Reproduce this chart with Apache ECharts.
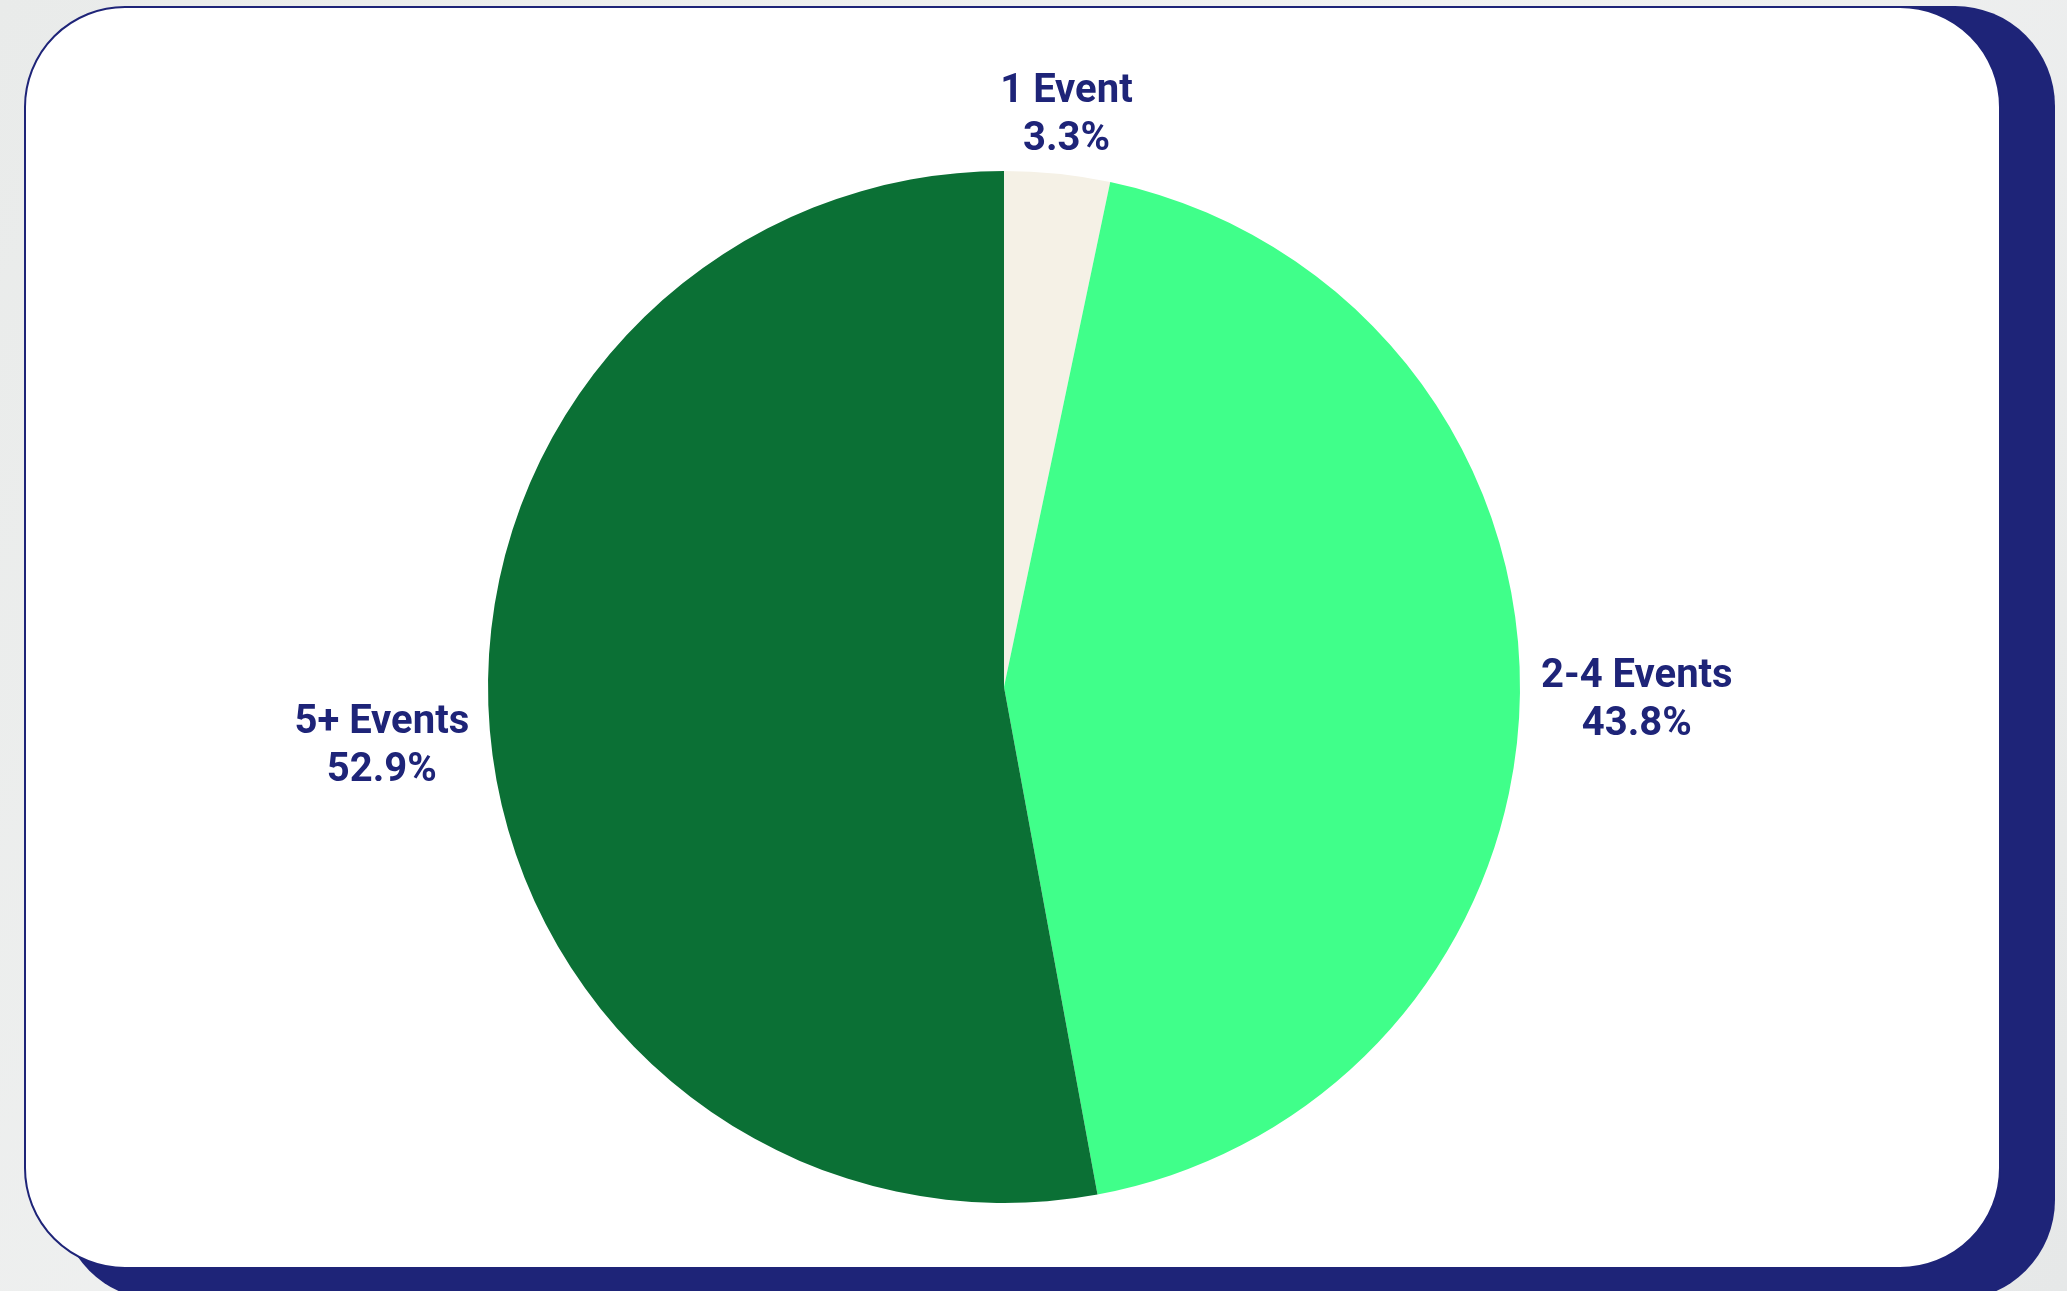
<!DOCTYPE html>
<html>
<head>
<meta charset="utf-8">
<script src="https://cdn.jsdelivr.net/npm/echarts@6/dist/echarts.min.js"></script>
<style>
  html, body { margin: 0; padding: 0; width: 100%; height: 100%; background: #eceeed; overflow: hidden; }
  #chart { width: 2067px; height: 1291px; }
</style>
</head>
<body>
<div id="chart"></div>
<script>
// ---- data ----
const categories = ['1 Event', '2-4 Events', '5+ Events'];
const shares = [3.3, 43.8, 52.9];
const sliceColors = ['#F5F1E6', '#40FF8A', '#0B7035'];

// ---- layout constants ----
const CX = 1004, CY = 687, R = 516;
const LABEL_OFFSET = 21;
const HALF_H_TRIM = 4;
const LABEL_SHIFT_Y = 7;
const NAVY = '#1E2478';

const chart = echarts.init(document.getElementById('chart'), null, { renderer: 'canvas' });

const option = {
  backgroundColor: {
    type: 'linear', x: 0, y: 0, x2: 1, y2: 1,
    colorStops: [{ offset: 0, color: '#e9ebea' }, { offset: 0.5, color: '#f1f2f2' }, { offset: 1, color: '#e6e8e8' }]
  },
  animation: false,
  graphic: [
    {
      type: 'rect', z: 0,
      shape: { x: 60, y: 6, width: 1995, height: 1294, r: 100 },
      style: { fill: NAVY }
    },
    {
      type: 'rect', z: 1,
      shape: { x: 25, y: 7, width: 1975, height: 1261, r: 100 },
      style: { fill: '#ffffff', stroke: NAVY, lineWidth: 2 }
    }
  ],
  series: [{
    type: 'pie',
    z: 5,
    center: [CX, CY],
    radius: [0, R],
    startAngle: 90,
    clockwise: true,
    avoidLabelOverlap: false,
    itemStyle: { borderWidth: 0 },
    label: {
      show: true,
      position: 'outside',
      formatter: function (p) { return p.name + '\n' + shares[p.dataIndex].toFixed(1) + '%'; },
      color: NAVY,
      fontFamily: 'Roboto',
      fontWeight: 'bold',
      fontSize: 40,
      lineHeight: 48,
      align: 'center'
    },
    labelLine: { show: true, length: 1, length2: 1, lineStyle: { opacity: 0, width: 0 } },
    labelLayout: function (p) {
      const pts = p.labelLinePoints;
      let ex, ey;
      if (pts && pts[0]) {
        ex = pts[0][0]; ey = pts[0][1];
      } else {
        const total = shares.reduce((a, b) => a + b, 0);
        let acc = 0;
        for (let i = 0; i < p.dataIndex; i++) acc += shares[i];
        const mid = (acc + shares[p.dataIndex] / 2) / total * Math.PI * 2;
        ex = CX + R * Math.sin(mid); ey = CY - R * Math.cos(mid);
      }
      const dx = ex - CX, dy = ey - CY;
      const len = Math.hypot(dx, dy) || 1;
      const vx = dx / len, vy = dy / len;
      const vs = 1 / Math.max(Math.abs(vx), Math.abs(vy));
      const w = p.labelRect.width, h = p.labelRect.height;
      const ox = (w / 2) * vx * vs + LABEL_OFFSET * vx;
      const oy = (h / 2 - HALF_H_TRIM) * vy * vs + LABEL_OFFSET * vy + LABEL_SHIFT_Y;
      return { x: ex + ox, y: ey + oy, align: 'center', verticalAlign: 'middle' };
    },
    emphasis: { disabled: true },
    data: categories.map((c, i) => ({ name: c, value: shares[i], itemStyle: { color: sliceColors[i] } }))
  }]
};

chart.setOption(option);
</script>
</body>
</html>
